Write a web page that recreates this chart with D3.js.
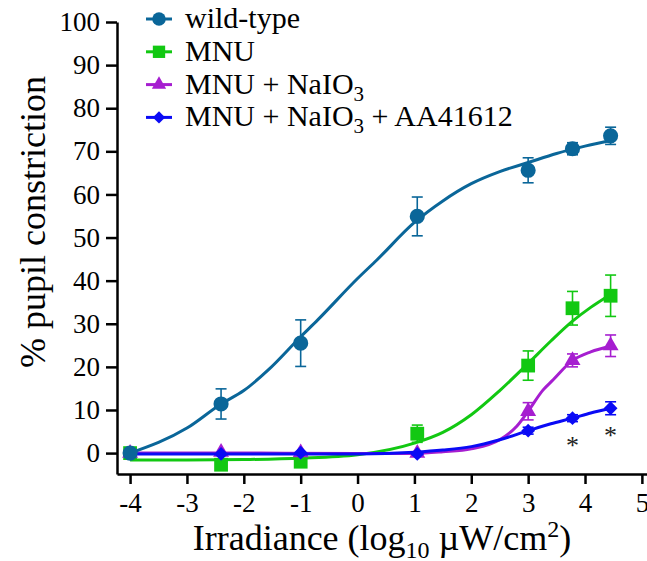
<!DOCTYPE html>
<html>
<head>
<meta charset="utf-8">
<script src="https://cdn.jsdelivr.net/npm/d3@7"></script>
<style>
  body { margin: 0; background: #fff; }
  text { font-family: "Liberation Serif", "DejaVu Serif", serif; }
</style>
</head>
<body>
<div id="chart"></div>
<script>
// values
var doseX = [-4, -2.4, -1, 1.05, 3, 3.78, 4.45];
var xTicks = [-4, -3, -2, -1, 0, 1, 2, 3, 4, 5];
var yTicks = [0, 10, 20, 30, 40, 50, 60, 70, 80, 90, 100];

var wtMean = [0, 11.4, 25.5, 54.9, 65.6, 70.6, 73.6];
var wtErr = [0, 3.5, 5.4, 4.5, 2.9, 1.4, 2.0];
var mnuMean = [0, -2.7, -2.0, 4.5, 20.3, 33.6, 36.5];
var mnuErr = [0, 0.6, 0.6, 2.0, 3.4, 3.9, 4.8];
var naMean = [0, 0.2, 0.1, 0, 9.7, 21.5, 24.9];
var naErr = [0, 0, 0, 0, 2.0, 1.5, 2.5];
var aaMean = [0, -0.2, 0.1, -0.2, 5.2, 8.1, 10.4];
var aaErr = [0, 0, 0, 0, 0.8, 0.8, 1.5];

// fitted curves
var wtCurveX = [-4, -3, -2.4, -2, -1.57, -1, -0.7, 0, 0.34, 1, 1.5, 2, 2.5, 3, 3.5, 4, 4.45];
var wtCurveY = [0, 5.8, 11.4, 14.5, 19.3, 27, 30.9, 40.5, 44.8, 53.5, 58.5, 62.5, 65.3, 67.4, 69.5, 71.2, 72.5];
var mnuCurveX = [-4, -3, -2, -1, 0, 1, 1.5, 2, 2.5, 3, 3.4, 3.78, 4.1, 4.45];
var mnuCurveY = [-1.6, -1.6, -1.5, -1.2, -0.4, 2.3, 4.8, 8.9, 14.5, 20.8, 26, 30.6, 33.8, 36.8];
var naCurveX = [-4, -2, 0, 1, 1.5, 2, 2.5, 2.8, 3, 3.26, 3.44, 3.78, 4.1, 4.45];
var naCurveY = [0, 0, -0.1, -0.1, 0.3, 1.0, 3.1, 6.2, 9.7, 14.6, 17.0, 21.5, 23.5, 24.8];
var aaCurveX = [-4, -2, 0, 1, 1.5, 2, 2.5, 3, 3.4, 3.78, 4.1, 4.45];
var aaCurveY = [-0.2, -0.2, -0.2, 0.2, 0.7, 1.5, 3.1, 5.2, 6.8, 8.1, 9.3, 10.4];

var starX = [3.78, 4.45];
var starY = [8.1, 10.4];

var width = 647, height = 561;

var svg = d3.select("#chart")
    .append("svg")
    .attr("width", width)
    .attr("height", height);

var xscale = d3.scaleLinear().domain([-4.23, 5.09]).range([117, 647]);
var yscale = d3.scaleLinear().domain([-4.85, 100]).range([474, 22]);

// axes
var xaxis = d3.axisBottom(xscale)
    .tickValues(xTicks)
    .tickSize(10)
    .tickSizeOuter(0)
    .tickPadding(9)
    .tickFormat(function (d) { return String(d); });
var gx = svg.append("g")
    .attr("class", "xaxis")
    .attr("transform", "translate(0,474)")
    .call(xaxis);

var yaxis = d3.axisLeft(yscale)
    .tickValues(yTicks)
    .tickSize(11)
    .tickSizeOuter(0)
    .tickPadding(6)
    .tickFormat(function (d) { return String(d); });
var gy = svg.append("g")
    .attr("class", "yaxis")
    .attr("transform", "translate(117,0)")
    .call(yaxis);

[gx, gy].forEach(function (g) {
    g.select(".domain").attr("stroke", "#000").attr("stroke-width", 2.5);
    g.selectAll(".tick line").attr("stroke", "#000").attr("stroke-width", 2.5);
    g.selectAll(".tick text")
        .attr("fill", "#000")
        .attr("font-size", 27)
        .attr("font-family", "Liberation Serif");
});

// axis titles
var xt = svg.append("text")
    .attr("x", 382)
    .attr("y", 550)
    .attr("text-anchor", "middle")
    .attr("font-size", 36)
    .attr("fill", "#000");
xt.append("tspan").text("Irradiance (log");
xt.append("tspan").attr("font-size", 24).attr("dy", 8).text("10");
xt.append("tspan").attr("dy", -8).text(" \u00b5W/cm");
xt.append("tspan").attr("font-size", 24).attr("dy", -13).text("2");
xt.append("tspan").attr("dy", 13).text(")");

svg.append("text")
    .attr("transform", "translate(45,222)rotate(-90)")
    .attr("text-anchor", "middle")
    .attr("font-size", 36)
    .attr("fill", "#000")
    .text("% pupil constriction");

var series = [
    {name: "MNU", color: "#12c812", sym: d3.symbolSquare, size: 190, rot: 0,
        mean: mnuMean, err: mnuErr, cx: mnuCurveX, cy: mnuCurveY},
    {name: "MNU + NaIO3", color: "#a61ed0", sym: d3.symbolTriangle, size: 110, rot: 0,
        mean: naMean, err: naErr, cx: naCurveX, cy: naCurveY},
    {name: "MNU + NaIO3 + AA41612", color: "#0a0af5", sym: d3.symbolSquare, size: 95, rot: 45,
        mean: aaMean, err: aaErr, cx: aaCurveX, cy: aaCurveY},
    {name: "wild-type", color: "#0a6699", sym: d3.symbolCircle, size: 180, rot: 0,
        mean: wtMean, err: wtErr, cx: wtCurveX, cy: wtCurveY}
];

var line = d3.line()
    .x(function (d) { return xscale(d[0]); })
    .y(function (d) { return yscale(d[1]); })
    .curve(d3.curveMonotoneX);

series.forEach(function (s) {
    var g = svg.append("g");
    var pts = s.cx.map(function (x, i) { return [x, s.cy[i]]; });
    g.append("path")
        .attr("d", line(pts))
        .attr("fill", "none")
        .attr("stroke", s.color)
        .attr("stroke-width", 3);

    // error bars
    var eb = doseX.map(function (x, i) { return {x: x, m: s.mean[i], e: s.err[i]}; })
        .filter(function (d) { return d.e > 0; });
    var bars = g.selectAll(".eb").data(eb).enter().append("g").attr("class", "eb")
        .attr("stroke", s.color).attr("stroke-width", 1.6);
    bars.append("line")
        .attr("x1", function (d) { return xscale(d.x); })
        .attr("x2", function (d) { return xscale(d.x); })
        .attr("y1", function (d) { return yscale(d.m - d.e); })
        .attr("y2", function (d) { return yscale(d.m + d.e); });
    [-1, 1].forEach(function (sgn) {
        bars.append("line")
            .attr("x1", function (d) { return xscale(d.x) - 5.5; })
            .attr("x2", function (d) { return xscale(d.x) + 5.5; })
            .attr("y1", function (d) { return yscale(d.m + sgn * d.e); })
            .attr("y2", function (d) { return yscale(d.m + sgn * d.e); });
    });

    g.selectAll(".pt")
        .data(doseX.map(function (x, i) { return [x, s.mean[i]]; }))
        .enter()
        .append("path")
        .attr("class", "pt")
        .attr("d", d3.symbol().type(s.sym).size(s.size))
        .attr("transform", function (d) {
            return "translate(" + xscale(d[0]) + "," + yscale(d[1]) + ")rotate(" + s.rot + ")";
        })
        .attr("fill", s.color);
});

// significance marks
svg.selectAll(".star")
    .data(starX)
    .enter()
    .append("text")
    .attr("class", "star")
    .attr("x", function (d) { return xscale(d); })
    .attr("y", function (d, i) { return yscale(starY[i]) + 36; })
    .attr("text-anchor", "middle")
    .attr("font-size", 26)
    .attr("fill", "#222")
    .text("*");

// legend
var legendOrder = [3, 0, 1, 2];
var legend = svg.selectAll(".legend")
    .data(legendOrder.map(function (k) { return series[k]; }))
    .enter()
    .append("g")
    .attr("class", "legend")
    .attr("transform", function (d, i) { return "translate(0," + (28 + i * 32.8) + ")"; });

legend.append("line")
    .attr("x1", 146).attr("x2", 172)
    .attr("y1", -9).attr("y2", -9)
    .attr("stroke", function (d) { return d.color; })
    .attr("stroke-width", 3);
legend.append("path")
    .attr("d", function (d) { return d3.symbol().type(d.sym).size(d.size * 0.8)(); })
    .attr("transform", function (d) { return "translate(159,-9)rotate(" + d.rot + ")"; })
    .attr("fill", function (d) { return d.color; });

legend.each(function (d) {
    var t = d3.select(this).append("text")
        .attr("x", 185)
        .attr("y", 0)
        .attr("font-size", 30)
        .attr("fill", "#000");
    var parts = d.name.split("IO3");
    if (parts.length === 1) {
        t.text(d.name);
    } else {
        t.append("tspan").text(parts[0] + "IO");
        t.append("tspan").attr("font-size", 21).attr("dy", 7).text("3");
        t.append("tspan").attr("dy", -7).text(parts[1]);
    }
});
</script>
</body>
</html>
